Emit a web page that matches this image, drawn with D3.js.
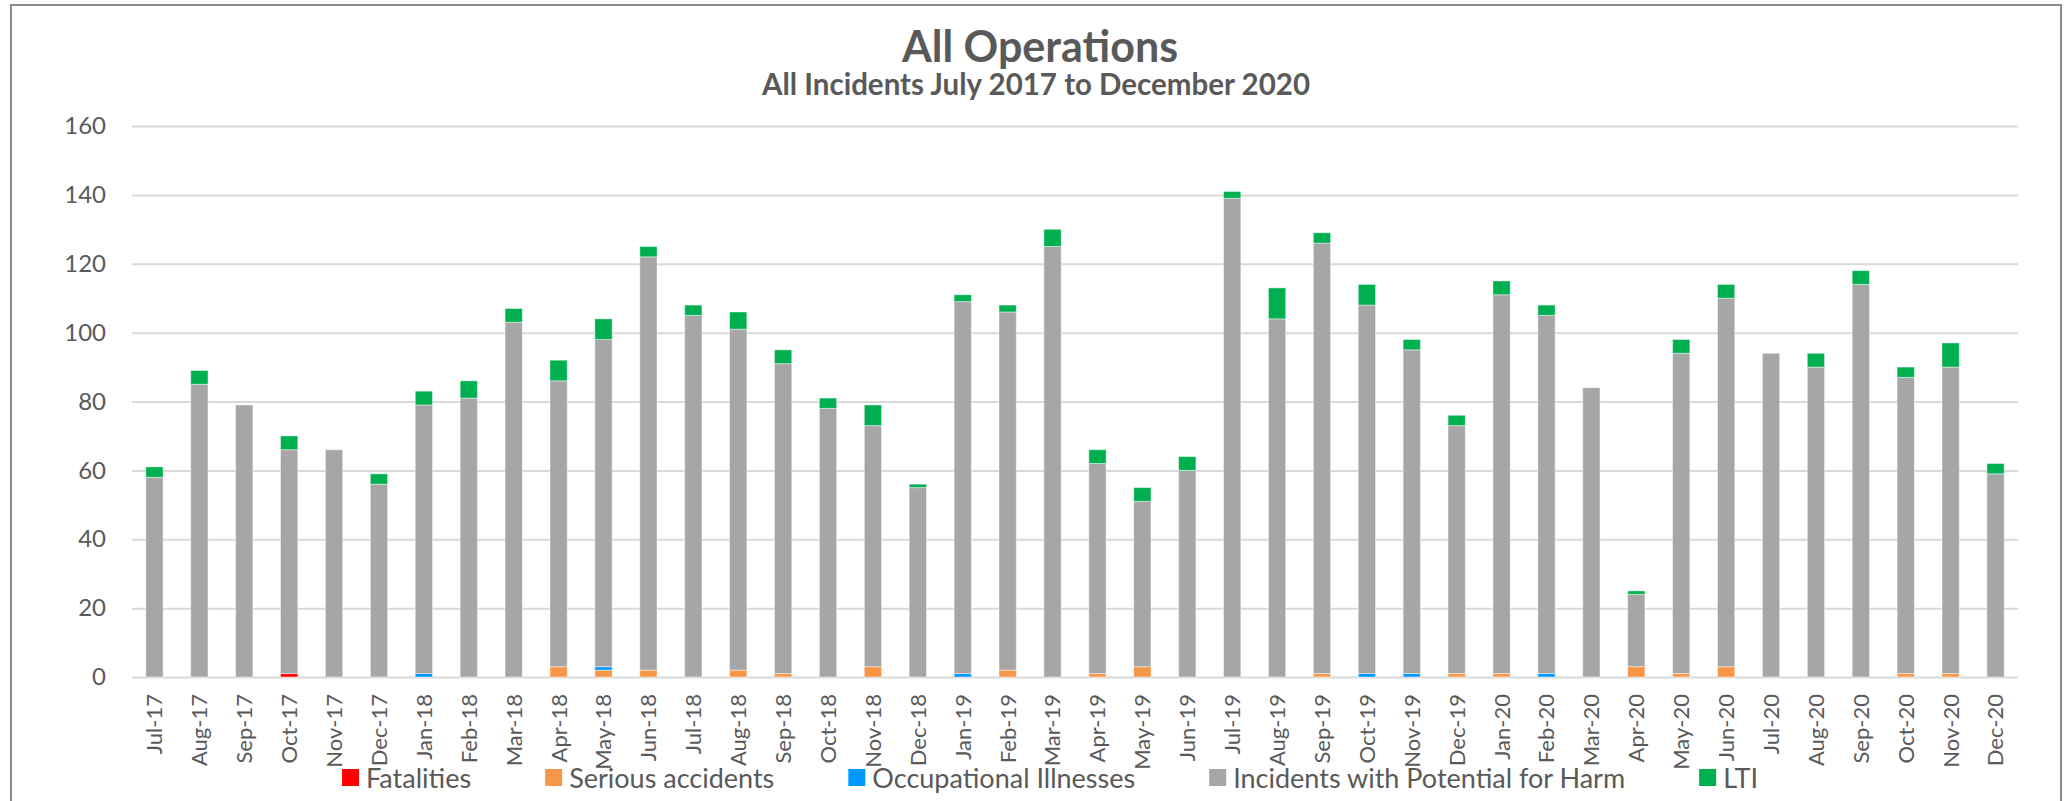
<!DOCTYPE html>
<html>
<head>
<meta charset="utf-8">
<script src="https://cdn.jsdelivr.net/npm/d3@7"></script>
<style>
  html, body { margin: 0; padding: 0; background: #ffffff; }
  svg { display: block; }
  text { font-family: Lato, "Liberation Sans", sans-serif; fill: #595959; }
</style>
</head>
<body>
<svg id="chart" width="2064" height="801"></svg>
<script>
// ---------------- data ----------------
const months = ["Jul-17","Aug-17","Sep-17","Oct-17","Nov-17","Dec-17",
  "Jan-18","Feb-18","Mar-18","Apr-18","May-18","Jun-18","Jul-18","Aug-18","Sep-18","Oct-18","Nov-18","Dec-18",
  "Jan-19","Feb-19","Mar-19","Apr-19","May-19","Jun-19","Jul-19","Aug-19","Sep-19","Oct-19","Nov-19","Dec-19",
  "Jan-20","Feb-20","Mar-20","Apr-20","May-20","Jun-20","Jul-20","Aug-20","Sep-20","Oct-20","Nov-20","Dec-20"];

const fatalities = [0,0,0,1,0,0, 0,0,0,0,0,0,0,0,0,0,0,0, 0,0,0,0,0,0,0,0,0,0,0,0, 0,0,0,0,0,0,0,0,0,0,0,0];
const seriousAccidents = [0,0,0,0,0,0, 0,0,0,3,2,2,0,2,1,0,3,0, 0,2,0,1,3,0,0,0,1,0,0,1, 1,0,0,3,1,3,0,0,0,1,1,0];
const occupationalIllnesses = [0,0,0,0,0,0, 1,0,0,0,1,0,0,0,0,0,0,0, 1,0,0,0,0,0,0,0,0,1,1,0, 0,1,0,0,0,0,0,0,0,0,0,0];
const potentialForHarm = [58,85,79,65,66,56, 78,81,103,83,95,120,105,99,90,78,70,55, 108,104,125,61,48,60,139,104,125,107,94,72, 110,104,84,21,93,107,94,90,114,86,89,59];
const lti = [3,4,0,4,0,3, 4,5,4,6,6,3,3,5,4,3,6,1, 2,2,5,4,4,4,2,9,3,6,3,3, 4,3,0,1,4,4,0,4,4,3,7,3];

const seriesNames = ["Fatalities","Serious accidents","Occupational Illnesses","Incidents with Potential for Harm","LTI"];
const seriesColors = ["#ff0000","#f79646","#0099ff","#a6a6a6","#00b050"];
const yTicks = [0,20,40,60,80,100,120,140,160];
const titleText = "All Operations";
const subtitleText = "All Incidents July 2017 to December 2020";

// ---------------- layout ----------------
const plot = { left: 132, right: 2018, top: 126, bottom: 677 };

const svg = d3.select("#chart");

// outer chart border
svg.append("rect")
  .attr("x", 11).attr("y", 5)
  .attr("width", 2050).attr("height", 830)
  .attr("fill", "none")
  .attr("stroke", "#8c8c8c")
  .attr("stroke-width", 2);

// titles
svg.append("text")
  .attr("x", 1040).attr("y", 62)
  .attr("text-anchor", "middle")
  .style("font-size", "43px").style("font-weight", "bold")
  .text(titleText);
svg.append("text")
  .attr("x", 1036).attr("y", 95)
  .attr("text-anchor", "middle")
  .style("font-size", "29.5px").style("font-weight", "bold")
  .text(subtitleText);

// scales
const x = d3.scaleBand()
  .domain(months)
  .range([plot.left, plot.right])
  .paddingInner(0.615)
  .paddingOuter(0.3075);

const y = d3.scaleLinear()
  .domain([0, 160])
  .range([plot.bottom, plot.top]);

// y axis with gridlines
const yAxis = svg.append("g")
  .attr("transform", `translate(${plot.left},0)`)
  .call(d3.axisLeft(y).tickValues(yTicks).tickSize(-(plot.right - plot.left)).tickPadding(26));
yAxis.select(".domain").remove();
yAxis.selectAll(".tick line")
  .attr("stroke", "#d9d9d9")
  .attr("stroke-width", 2);
yAxis.selectAll(".tick text")
  .style("font-size", "24px")
  .style("font-family", "Lato, 'Liberation Sans', sans-serif")
  .attr("fill", "#595959");

// stacked data
const table = months.map((m, i) => ({
  month: m,
  "Fatalities": fatalities[i],
  "Serious accidents": seriousAccidents[i],
  "Occupational Illnesses": occupationalIllnesses[i],
  "Incidents with Potential for Harm": potentialForHarm[i],
  "LTI": lti[i]
}));
const stacked = d3.stack().keys(seriesNames)(table);

const color = d3.scaleOrdinal().domain(seriesNames).range(seriesColors);

svg.append("g").selectAll("g")
  .data(stacked)
  .join("g")
  .attr("fill", d => color(d.key))
  .selectAll("rect")
  .data(d => d.filter(s => s[1] - s[0] > 0))
  .join("rect")
  .attr("x", d => x(d.data.month))
  .attr("width", x.bandwidth())
  .attr("y", d => y(d[1]))
  .attr("height", d => y(d[0]) - y(d[1]))
  .attr("stroke", "rgba(255,255,255,0.45)")
  .attr("stroke-width", 1);

// x axis labels (rotated)
const xAxis = svg.append("g")
  .attr("transform", `translate(0,${plot.bottom})`)
  .call(d3.axisBottom(x).tickSize(0));
xAxis.select(".domain").remove();
xAxis.selectAll(".tick text")
  .attr("transform", "rotate(-90)")
  .attr("x", -17)
  .attr("y", 0)
  .attr("dy", "0.36em")
  .attr("text-anchor", "end")
  .style("font-size", "22px")
  .style("font-family", "Lato, 'Liberation Sans', sans-serif")
  .attr("fill", "#595959");

// legend
const legend = svg.append("g");
const items = legend.selectAll("g")
  .data(seriesNames)
  .join("g");
items.append("rect")
  .attr("width", 17).attr("height", 17)
  .attr("y", 769)
  .attr("fill", d => color(d));
items.append("text")
  .attr("x", 24)
  .attr("y", 778)
  .attr("dy", "0.36em")
  .style("font-size", "27px")
  .text(d => d);
// sequential placement
const gap = 74;
let widths = [];
items.each(function() {
  widths.push(24 + this.querySelector("text").getComputedTextLength());
});
const total = d3.sum(widths) + gap * (widths.length - 1);
let cx = 1050 - total / 2;
items.each(function(d, i) {
  d3.select(this).attr("transform", `translate(${cx},0)`);
  cx += widths[i] + gap;
});
</script>
</body>
</html>
